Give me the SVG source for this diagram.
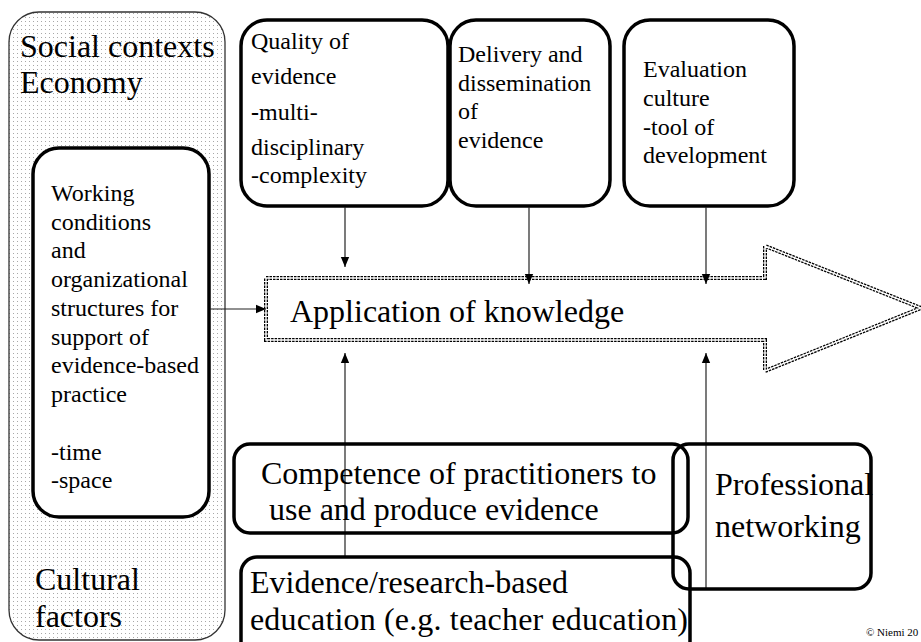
<svg xmlns="http://www.w3.org/2000/svg" width="921" height="642" viewBox="0 0 921 642">
<style>
text{font-family:"Liberation Serif","Times New Roman",serif;fill:#000}
.t24{font-size:24px}
.t32{font-size:32px}
.box{fill:#fff;stroke:#000;stroke-width:3.5}
.bbox{fill:none;stroke:#000;stroke-width:3.5}
.con{stroke:#222;stroke-width:1.2;fill:none;marker-end:url(#ah)}
</style>
<defs>
<pattern id="dots" width="4" height="4" patternUnits="userSpaceOnUse">
<rect width="4" height="4" fill="#fff"/>
<rect x="1" y="1" width="1" height="1" fill="#a8a8a8"/>
</pattern>
<marker id="ah" markerUnits="userSpaceOnUse" markerWidth="10" markerHeight="12" refX="12" refY="5" viewBox="0 0 12 10" orient="auto">
<path d="M0,0 L12,5 L0,10 z" fill="#000"/>
</marker>
</defs>

<g id="outer">
<rect x="9" y="12" width="216" height="628" rx="30" ry="30" fill="url(#dots)" stroke="#333" stroke-width="1.3"/>
<text class="t32" x="20" y="57">Social contexts</text>
<text class="t32" x="20" y="93">Economy</text>
<text class="t32" x="35" y="590">Cultural</text>
<text class="t32" x="35" y="627">factors</text>
</g>

<g id="working">
<rect class="box" x="33" y="148" width="176" height="369" rx="26"/>
<text class="t24" x="51" y="201">Working</text>
<text class="t24" x="51" y="230">conditions</text>
<text class="t24" x="51" y="258">and</text>
<text class="t24" x="51" y="287">organizational</text>
<text class="t24" x="51" y="316">structures for</text>
<text class="t24" x="51" y="345">support of</text>
<text class="t24" x="51" y="373">evidence-based</text>
<text class="t24" x="51" y="402">practice</text>
<text class="t24" x="51" y="460">-time</text>
<text class="t24" x="51" y="488">-space</text>
</g>

<g id="quality">
<rect class="box" x="241" y="20" width="207" height="186" rx="26"/>
<text class="t24" x="251" y="49">Quality of</text>
<text class="t24" x="251" y="84">evidence</text>
<text class="t24" x="251" y="120"><tspan font-weight="bold">-</tspan>multi-</text>
<text class="t24" x="251" y="155">disciplinary</text>
<text class="t24" x="251" y="183">-complexity</text>
</g>

<g id="delivery">
<rect class="box" x="450" y="20" width="160" height="186" rx="26"/>
<text class="t24" x="458" y="62">Delivery and</text>
<text class="t24" x="458" y="91">dissemination</text>
<text class="t24" x="458" y="119">of</text>
<text class="t24" x="458" y="148">evidence</text>
</g>

<g id="evaluation">
<rect class="box" x="624" y="20" width="170" height="186" rx="26"/>
<text class="t24" x="643" y="77">Evaluation</text>
<text class="t24" x="643" y="106">culture</text>
<text class="t24" x="643" y="135">-tool of</text>
<text class="t24" x="643" y="163">development</text>
</g>

<g id="application">
<path d="M266,278 H765 V246 L921,308 L765,371 V340 H266 Z" fill="#fff" stroke="#000" stroke-width="4" stroke-dasharray="2.5 1"/>
<path d="M266,278 H765 V246 L921,308 L765,371 V340 H266 Z" fill="none" stroke="#fff" stroke-width="1.4"/>
<text class="t32" x="290" y="322">Application of knowledge</text>
</g>

<g id="connectors">
<line class="con" x1="345" y1="207" x2="345" y2="267"/>
<line class="con" x1="529" y1="207" x2="529" y2="284"/>
<line class="con" x1="706" y1="207" x2="706" y2="284"/>
<line class="con" x1="210" y1="309" x2="266" y2="309"/>
<line class="con" x1="345" y1="556" x2="345" y2="353"/>
<line class="con" x1="706" y1="588" x2="706" y2="353"/>
</g>

<g id="competence">
<rect class="bbox" x="234" y="444" width="454" height="89" rx="16"/>
<text class="t32" x="261" y="484">Competence of practitioners to</text>
<text class="t32" x="261" y="520" xml:space="preserve"> use and produce evidence</text>
</g>

<g id="networking">
<rect class="bbox" x="673" y="444" width="198" height="145" rx="16"/>
<text class="t32" x="715" y="495">Professional</text>
<text class="t32" x="715" y="537">networking</text>
</g>

<g id="education">
<rect class="bbox" x="241" y="557" width="449" height="100" rx="16"/>
<text class="t32" x="250" y="593">Evidence/research-based</text>
<text class="t32" x="250" y="630" textLength="438" lengthAdjust="spacing">education (e.g. teacher education)</text>
</g>

<text x="866" y="636" font-size="11">© Niemi 20</text>
</svg>
